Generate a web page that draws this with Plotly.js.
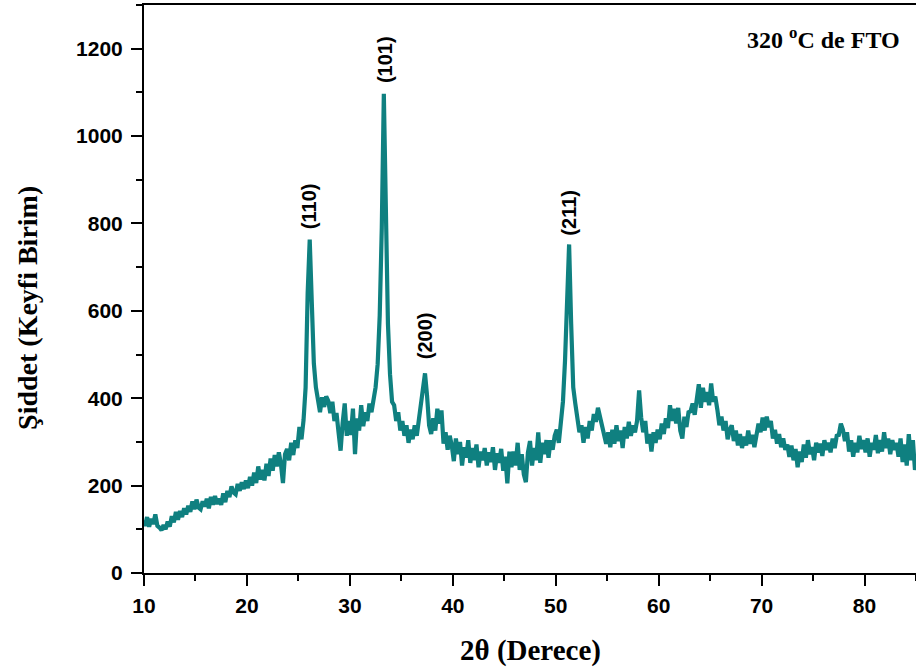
<!DOCTYPE html>
<html>
<head>
<meta charset="utf-8">
<script src="https://cdn.plot.ly/plotly-3.0.1.min.js"></script>
<style>
  html, body { margin: 0; padding: 0; background: #ffffff; }
  #chart { width: 916px; height: 671px; }
</style>
</head>
<body>
<div id="chart"></div>
<script>
// XRD pattern of the FTO film deposited at 320 °C.
// Scan starts at 2θ = 9.9° and is sampled every 0.2°.
const scanStart = 9.9;
const scanStep = 0.2;

// Intensity (arbitrary units), ten samples (2°) per row
const intensity = [
  120, 108, 128, 106, 124, 112, 134, 108, 104, 98,
  110, 100, 118, 106, 130, 116, 140, 122, 142, 128,
  148, 134, 154, 140, 164, 146, 168, 150, 146, 164,
  152, 170, 148, 174, 156, 176, 158, 170, 156, 182,
  162, 188, 174, 198, 184, 180, 204, 188, 208, 192,
  212, 194, 220, 200, 230, 206, 244, 214, 236, 212,
  250, 222, 262, 234, 270, 244, 276, 250, 206, 272,
  284, 258, 298, 270, 304, 286, 334, 306, 350, 425,
  640, 763, 620, 480, 425, 392, 368, 402, 380, 404,
  394, 366, 392, 348, 366, 322, 280, 344, 388, 314,
  348, 316, 376, 272, 354, 326, 384, 336, 368, 348,
  388, 368, 396, 425, 478, 590, 790, 1097, 830, 570,
  455, 392, 384, 348, 368, 326, 348, 314, 338, 298,
  328, 306, 338, 314, 350, 384, 425, 457, 405, 338,
  318, 354, 326, 376, 342, 372, 296, 322, 282, 314,
  292, 256, 308, 272, 300, 246, 288, 264, 304, 252,
  286, 258, 294, 242, 278, 258, 286, 246, 276, 254,
  288, 236, 274, 252, 284, 234, 266, 205, 278, 242,
  278, 246, 298, 236, 272, 226, 208, 276, 302, 246,
  286, 258, 322, 252, 298, 272, 304, 264, 304, 282,
  314, 328, 298, 348, 392, 485, 625, 752, 570, 425,
  388, 356, 322, 338, 298, 334, 308, 348, 326, 364,
  346, 378, 358, 338, 316, 296, 322, 288, 328, 296,
  338, 302, 326, 286, 334, 308, 346, 314, 338, 322,
  348, 418, 356, 322, 348, 296, 318, 278, 322, 298,
  328, 306, 342, 318, 354, 332, 384, 348, 376, 342,
  378, 326, 308, 358, 334, 368, 370, 388, 362, 396,
  432, 378, 424, 392, 414, 384, 434, 392, 404, 374,
  338, 358, 326, 348, 306, 328, 338, 302, 326, 292,
  318, 286, 312, 292, 326, 296, 316, 288, 322, 342,
  322, 356, 326, 358, 334, 348, 308, 328, 296, 318,
  288, 308, 282, 294, 266, 292, 258, 284, 242, 278,
  254, 294, 264, 304, 272, 288, 258, 298, 276, 296,
  268, 304, 282, 298, 276, 308, 286, 314, 316, 342,
  328, 302, 322, 278, 304, 266, 298, 276, 314, 284,
  304, 276, 308, 266, 298, 282, 316, 274, 304, 278,
  322, 286, 308, 272, 304, 282, 298, 266, 308, 254,
  294, 246, 318, 258, 304, 236, 272
];

// Miller indices of the SnO2 reflections and where their labels sit
const peakLabels = ["(110)", "(101)", "(200)", "(211)"];
const peakLabelX = [26.1, 33.4, 37.3, 51.2];
const peakLabelY = [839, 1176, 542, 825];

const xTickVals = [10, 20, 30, 40, 50, 60, 70, 80];
const yTickVals = [0, 200, 400, 600, 800, 1000, 1200];

const sans = "Liberation Sans, Arial, sans-serif";
const serif = "Liberation Serif, Times New Roman, serif";

const trace = {
  type: "scatter",
  mode: "lines",
  x0: scanStart,
  dx: scanStep,
  y: intensity,
  line: { color: "#0f8080", width: 4.2 },
  hoverinfo: "x+y"
};

const annotations = peakLabels.map((t, i) => ({
  x: peakLabelX[i], y: peakLabelY[i], xref: "x", yref: "y",
  text: t, showarrow: false, textangle: -90,
  font: { family: sans, size: 20, weight: "bold", color: "#000" }
}));

annotations.push({
  x: 0.982, y: 0.942, xref: "paper", yref: "paper",
  xanchor: "right", yanchor: "middle", showarrow: false,
  text: "320 <sup>o</sup>C de FTO",
  font: { family: serif, size: 24, weight: "bold", color: "#000" }
});
annotations.push({
  x: 0.501, y: -0.136, xref: "paper", yref: "paper",
  xanchor: "center", yanchor: "middle", showarrow: false,
  text: "2θ (Derece)",
  font: { family: serif, size: 29, weight: "bold", color: "#000" }
});
annotations.push({
  x: -0.150, y: 0.467, xref: "paper", yref: "paper",
  xanchor: "center", yanchor: "middle", showarrow: false,
  textangle: -90,
  text: "Şiddet (Keyfi Birim)",
  font: { family: serif, size: 28, weight: "bold", color: "#000" }
});

const layout = {
  width: 916, height: 671,
  margin: { l: 144, r: 0, t: 5, b: 98 },
  paper_bgcolor: "#ffffff",
  plot_bgcolor: "#ffffff",
  showlegend: false,
  xaxis: {
    range: [10, 85],
    tickvals: xTickVals,
    ticks: "outside", ticklen: 11, tickwidth: 2, tickcolor: "#000",
    minor: { dtick: 5, tick0: 5, ticks: "outside", ticklen: 6, tickwidth: 2, tickcolor: "#000", showgrid: false },
    showline: true, linecolor: "#000", linewidth: 2, mirror: true,
    showgrid: false, zeroline: false,
    ticklabelstandoff: 2,
    tickfont: { family: sans, size: 21, weight: "bold", color: "#000" }
  },
  yaxis: {
    range: [0, 1300],
    tickvals: yTickVals,
    ticks: "outside", ticklen: 11, tickwidth: 2, tickcolor: "#000",
    minor: { dtick: 100, tick0: 0, ticks: "outside", ticklen: 6, tickwidth: 2, tickcolor: "#000", showgrid: false },
    showline: true, linecolor: "#000", linewidth: 2,
    showgrid: false, zeroline: false,
    ticklabelstandoff: 4,
    tickfont: { family: sans, size: 21, weight: "bold", color: "#000" }
  },
  annotations: annotations
};

Plotly.newPlot("chart", [trace], layout, { staticPlot: true, displayModeBar: false });
</script>
</body>
</html>
